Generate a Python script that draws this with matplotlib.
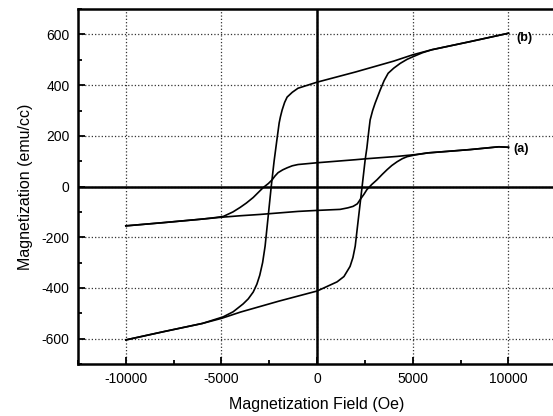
import matplotlib
matplotlib.use("Agg")
import matplotlib.pyplot as plt
from matplotlib.ticker import MultipleLocator

plt.rcParams['font.family'] = ['Liberation Sans', 'DejaVu Sans']
plt.rcParams['axes.unicode_minus'] = False

# Sample (a): upper branch (field decreasing) and lower branch (field increasing)
a_up_H = [10000, 9500, 8000, 7000, 5800, 5120, 4700, 4180, 3660, 3130, 2600, 2000, 1000, 0,
          -1000, -1300, -1570, -1800, -2040, -2200, -2350, -2550, -2820, -3100, -3340,
          -3700, -4020, -4400, -4910, -5500, -6110, -8000, -10000]
a_up_M = [155, 157, 146, 140, 133, 126, 123, 119, 116, 113, 110, 106, 100, 94,
          87, 82, 74, 66, 55, 42, 27, 12, -4, -25, -43,
          -65, -82, -100, -118, -124, -129, -142, -155]
a_lo_H = [-10000, -8000, -6110, -5000, -4000, -3000, -2000, -1000, 0, 1200, 1600, 1880,
          2100, 2250, 2450, 2600, 2850, 3130, 3400, 3660, 3900, 4180, 4450, 4700, 5120,
          5800, 7000, 8000, 9500, 10000]
a_lo_M = [-155, -142, -129, -121, -115, -110, -104, -98, -94, -90, -84, -78,
          -68, -51, -30, -12, 8, 27, 48, 67, 83, 98, 110, 118, 125,
          133, 140, 146, 157, 155]

# Sample (b)
b_up_H = [10000, 8000, 6000, 5000, 4000, 2000, 1000, 0, -1000, -1300, -1570, -1700, -1830,
          -1920, -1985, -2090, -2250, -2400, -2560, -2720, -2850, -3000, -3150, -3340,
          -3600, -3870, -4390, -4910, -6000, -8000, -10000]
b_up_M = [605, 572, 540, 520, 495, 452, 432, 412, 388, 372, 353, 332, 302,
          275, 251, 192, 100, 0, -118, -235, -300, -350, -385, -416,
          -443, -463, -494, -514, -540, -572, -605]
b_lo_H = [-10000, -8000, -6000, -5000, -4000, -2000, -1000, 0, 1040, 1400, 1720, 1870,
          1990, 2150, 2350, 2510, 2600, 2700, 2770, 2900, 3030, 3290, 3500, 3710, 4000,
          4340, 4700, 5000, 5500, 6000, 8000, 10000]
b_lo_M = [-605, -572, -540, -520, -495, -452, -432, -412, -376, -355, -315, -280,
          -235, -130, 0, 106, 153, 220, 263, 300, 329, 380, 418, 447, 467,
          486, 502, 512, 528, 540, 572, 605]

x_ticks = [-10000, -5000, 0, 5000, 10000]
y_ticks = [-600, -400, -200, 0, 200, 400, 600]

fig = plt.figure(figsize=(5.53, 4.16), dpi=100)
ax = fig.add_axes([0.141, 0.125, 0.865, 0.853])

ax.set_xlim(-12500, 12500)
ax.set_ylim(-700, 700)
ax.set_xticks(x_ticks)
ax.set_yticks(y_ticks)
ax.xaxis.set_minor_locator(MultipleLocator(2500))
ax.yaxis.set_minor_locator(MultipleLocator(100))
ax.grid(True, which='major', linestyle=':', color='#333333', linewidth=0.9)

ax.axhline(0, color='black', linewidth=1.8, zorder=2)
ax.axvline(0, color='black', linewidth=1.8, zorder=2)

for H, M in [(a_up_H, a_up_M), (a_lo_H, a_lo_M), (b_up_H, b_up_M), (b_lo_H, b_lo_M)]:
    ax.plot(H, M, color='black', linewidth=1.2, zorder=3)

ax.text(10400, 588, '(b)', fontsize=9, fontweight='bold', va='center', ha='left')
ax.text(10250, 150, '(a)', fontsize=9, fontweight='bold', va='center', ha='left')

for s in ['left', 'bottom', 'top']:
    ax.spines[s].set_linewidth(1.8)
ax.spines['right'].set_visible(False)

ax.tick_params(which='both', direction='in', width=1.3)
ax.tick_params(which='major', length=5, labelsize=10, pad=6)
ax.tick_params(which='minor', length=3)

ax.set_xlabel('Magnetization Field (Oe)', fontsize=11.5, labelpad=8)
ax.set_ylabel('Magnetization (emu/cc)', fontsize=11.5, labelpad=6)

fig.savefig('out.png', dpi=100)
